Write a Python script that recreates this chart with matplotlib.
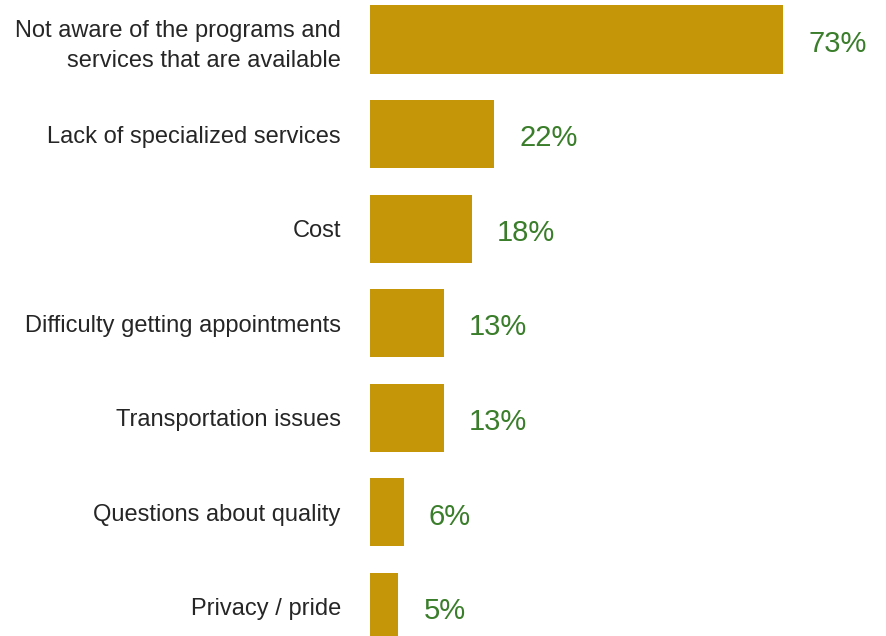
import matplotlib
matplotlib.use("Agg")
import matplotlib.pyplot as plt

plt.rcParams['font.family'] = ['Liberation Sans', 'DejaVu Sans']

categories = ["Not aware of the programs and\nservices that are available",
              "Lack of specialized services",
              "Cost",
              "Difficulty getting appointments",
              "Transportation issues",
              "Questions about quality",
              "Privacy / pride"]
values = [73, 22, 18, 13, 13, 6, 5]
value_labels = ["73%", "22%", "18%", "13%", "13%", "6%", "5%"]

bar_color = '#C59708'
label_color = '#3A7D2A'
text_color = '#262626'

fig = plt.figure(figsize=(8.86, 6.36), dpi=100)
ax = fig.add_axes([370 / 886, 0, 1 - 370 / 886, 1])

ypos = list(range(len(categories)))
bars = ax.barh(ypos, values, height=0.72, color=bar_color)

for bar, lab in zip(bars, value_labels):
    ax.annotate(lab, xy=(bar.get_width(), bar.get_y() + bar.get_height() / 2),
                xytext=(18, -3), textcoords='offset points',
                ha='left', va='center', fontsize=21, color=label_color)

ax.set_xlim(0, 91.2)
ax.set_ylim(6.307, -0.418)
ax.set_yticks(ypos)
ax.set_yticklabels(categories, fontsize=17, color=text_color, ha='right',
                   linespacing=1.45)
ax.tick_params(axis='y', length=0, pad=21)
ax.set_xticks([])
for s in ax.spines.values():
    s.set_visible(False)

fig.savefig('out.png', dpi=100)
